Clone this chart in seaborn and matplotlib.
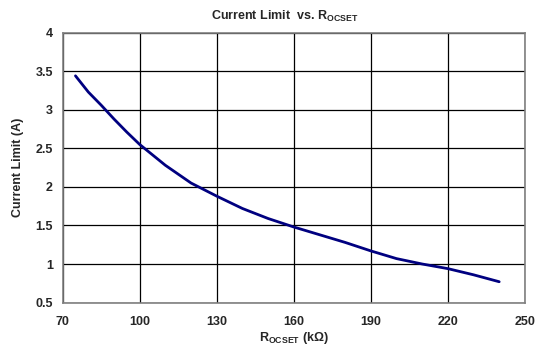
import matplotlib
matplotlib.use("Agg")
import matplotlib.pyplot as plt
import seaborn as sns
import pandas as pd

r_ocset = [75, 80, 85, 90, 95, 100, 110, 120, 130, 140, 150, 160, 170, 180, 190, 200, 210, 220, 230, 240]
current = [3.44, 3.23, 3.06, 2.88, 2.71, 2.55, 2.28, 2.05, 1.88, 1.72, 1.59, 1.48, 1.38, 1.28, 1.17, 1.07, 1.00, 0.94, 0.86, 0.77]
x_ticks = [70, 100, 130, 160, 190, 220, 250]
y_ticks = [0.5, 1, 1.5, 2, 2.5, 3, 3.5, 4]
y_labels = ["0.5", "1", "1.5", "2", "2.5", "3", "3.5", "4"]

sns.set_theme(style="white")
plt.rcParams['font.family'] = ['Liberation Sans', 'DejaVu Sans']
plt.rcParams['mathtext.fontset'] = 'custom'
plt.rcParams['mathtext.bf'] = 'Liberation Sans:bold'
plt.rcParams['mathtext.rm'] = 'Liberation Sans:bold'

df = pd.DataFrame({"R": r_ocset, "I": current})

fig = plt.figure(figsize=(5.4, 3.51), dpi=100)
ax = fig.add_axes([0.116, 0.138, 0.856, 0.769])
sns.lineplot(data=df, x="R", y="I", ax=ax, color="#000080", linewidth=2.0)

ax.set_xlim(70, 250)
ax.set_ylim(0.5, 4)
ax.set_xticks(x_ticks)
ax.set_xticklabels([str(t) for t in x_ticks])
ax.set_yticks(y_ticks)
ax.set_yticklabels(y_labels)
ax.grid(True, color="black", linewidth=0.9)
for s in ax.spines.values():
    s.set_color("#808080")
    s.set_linewidth(1.2)
ax.tick_params(axis="both", labelsize=9, length=2, width=0.8, color="#808080", pad=5)
for lab in ax.get_xticklabels() + ax.get_yticklabels():
    lab.set_fontweight("bold")
ax.tick_params(axis="x", pad=8)
ax.set_xlabel(r"R$_{\mathbf{OCSET}}$ (k$\mathbf{\Omega}$)", fontsize=9, fontweight="bold", labelpad=1)
ax.set_ylabel("Current Limit (A)", fontsize=9, fontweight="bold", labelpad=8)
ax.set_title(r"Current Limit  vs. R$_{\mathbf{OCSET}}$", fontsize=9, fontweight="bold", pad=9, x=0.48)

fig.savefig("out.png", dpi=100, facecolor="white")
